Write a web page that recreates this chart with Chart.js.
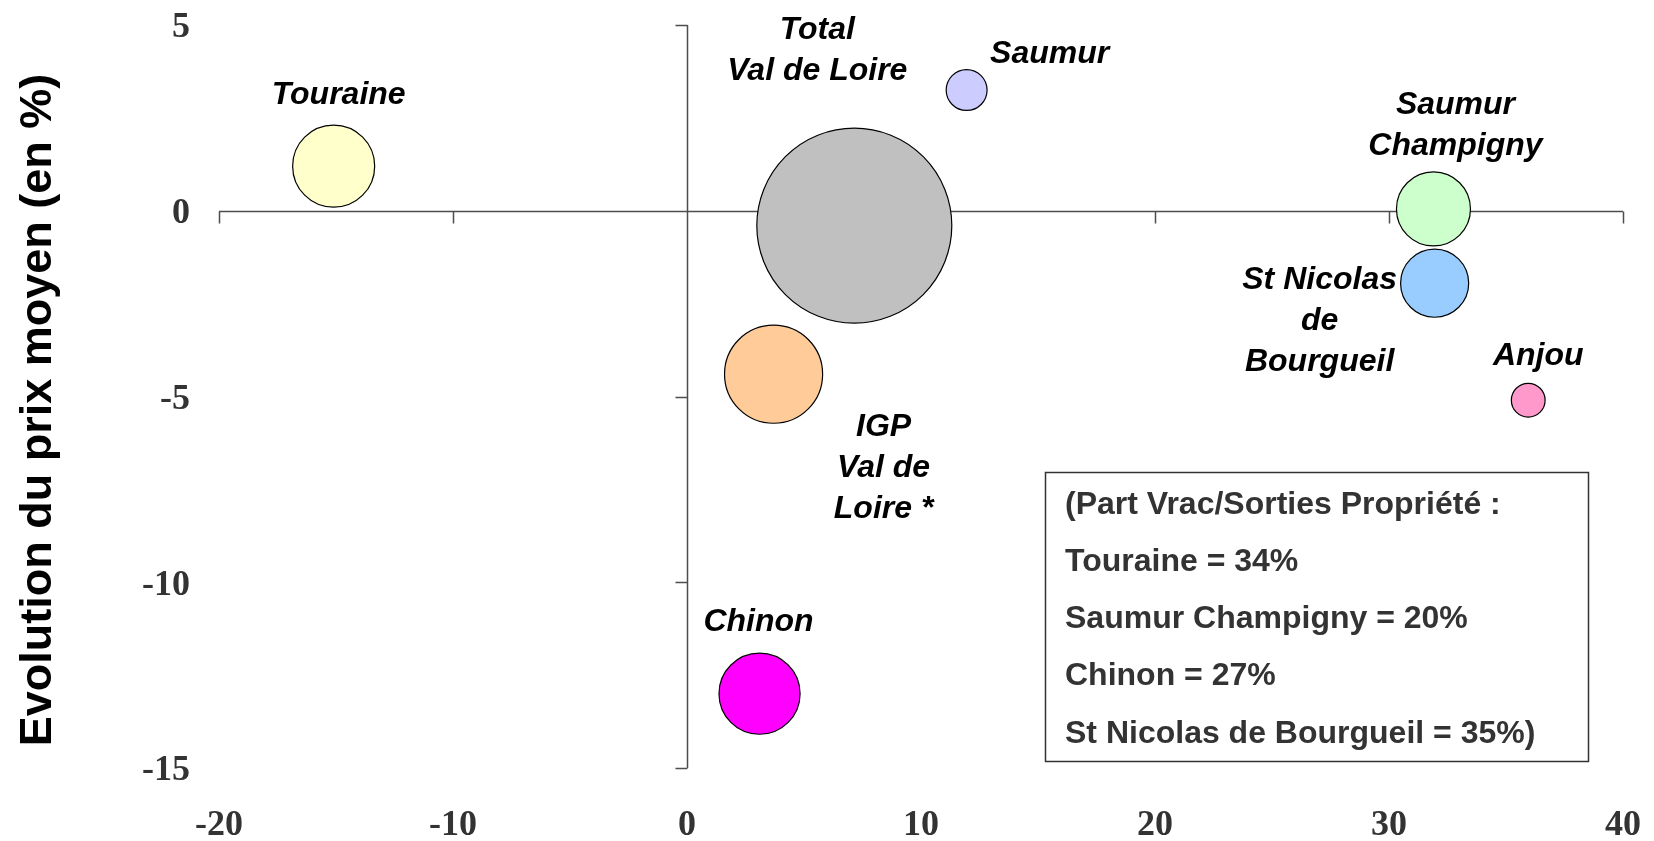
<!DOCTYPE html>
<html>
<head>
<meta charset="utf-8">
<script src="https://cdn.jsdelivr.net/npm/chart.js@4/dist/chart.umd.min.js"></script>
<style>
  html, body { margin: 0; padding: 0; background: #fff; }
</style>
</head>
<body>
<canvas id="bullesChart" width="1654" height="841"></canvas>
<script>
// Données
const appellations = ['Touraine', 'Total Val de Loire', 'Saumur', 'Saumur Champigny', 'St Nicolas de Bourgueil', 'Anjou', 'IGP Val de Loire *', 'Chinon'];
const evolVolumes = [-15.1, 7.15, 11.95, 31.9, 31.95, 35.95, 3.7, 3.1];
const evolPrix = [1.2, -0.4, 3.25, 0.05, -1.95, -5.1, -4.4, -13.0];
const volumes = [17.7, 100, 4.4, 14.4, 12.2, 3.0, 25.3, 17.3];
const couleurs = ['#FFFFCC', '#C0C0C0', '#CCCCFF', '#CCFFCC', '#99CCFF', '#FF99CC', '#FFCC99', '#FF00FF'];
const etiquettes = [['Touraine'], ['Total', 'Val de Loire'], ['Saumur'], ['Saumur', 'Champigny'], ['St Nicolas', 'de', 'Bourgueil'], ['Anjou'], ['IGP', 'Val de', 'Loire *'], ['Chinon']];
const ticksX = [-20, -10, 0, 10, 20, 30, 40];
const ticksY = [5, 0, -5, -10, -15];
const titreY = 'Evolution du prix moyen (en %)';
const encadre = ['(Part Vrac/Sorties Propriété :', 'Touraine = 34%', 'Saumur Champigny = 20%', 'Chinon = 27%', 'St Nicolas de Bourgueil = 35%)'];

// position des étiquettes par rapport au centre de chaque bulle (px)
const decalages = [[5, -71], [-37, -195], [83, -36], [22, -104], [-115, -3], [10, -44], [110, 53], [-1, -72]];

const grisAxe = '#4d4d4d';
const policeTicks = { family: '"Liberation Serif", "Times New Roman", serif', size: 36, weight: 'bold' };

// pas de marge supplémentaire due aux libellés : la zone de tracé reste fixe
function sansMarges(axis) {
    axis.paddingTop = 0;
    axis.paddingBottom = 0;
    axis.paddingLeft = 0;
    axis.paddingRight = 0;
}

// Axes qui se croisent en zéro (tracés avant les bulles)
const axesCroisesPlugin = {
    id: 'axesCroises',
    beforeDatasetsDraw(chart) {
        const { ctx, scales: { x, y } } = chart;
        const x0 = Math.round(x.getPixelForValue(0)) + 0.5;
        const y0 = Math.round(y.getPixelForValue(0)) + 0.5;
        ctx.save();
        ctx.strokeStyle = grisAxe;
        ctx.lineWidth = 1.5;
        ctx.beginPath();
        ctx.moveTo(x.getPixelForValue(ticksX[0]), y0);
        ctx.lineTo(x.getPixelForValue(ticksX[ticksX.length - 1]), y0);
        ticksX.forEach(v => {
            const px = Math.round(x.getPixelForValue(v)) + 0.5;
            ctx.moveTo(px, y0);
            ctx.lineTo(px, y0 + 12);
        });
        ctx.moveTo(x0, y.getPixelForValue(ticksY[0]));
        ctx.lineTo(x0, y.getPixelForValue(ticksY[ticksY.length - 1]));
        ticksY.forEach(v => {
            const py = Math.round(y.getPixelForValue(v)) + 0.5;
            ctx.moveTo(x0, py);
            ctx.lineTo(x0 - 12, py);
        });
        ctx.stroke();
        ctx.restore();
    }
};

// Etiquettes des bulles, titre de l'axe vertical et encadré
const etiquettesPlugin = {
    id: 'etiquettes',
    afterDatasetsDraw(chart) {
        const ctx = chart.ctx;
        const meta = chart.getDatasetMeta(0);
        ctx.save();
        ctx.font = 'italic bold 32px "Liberation Sans", Arial, sans-serif';
        ctx.fillStyle = '#000';
        ctx.textAlign = 'center';
        ctx.textBaseline = 'middle';
        meta.data.forEach((pt, i) => {
            const [dx, dy] = decalages[i];
            etiquettes[i].forEach((ligne, k) => {
                ctx.fillText(ligne, pt.x + dx, pt.y + dy + k * 41);
            });
        });

        // titre de l'axe vertical
        ctx.save();
        ctx.translate(51, 410);
        ctx.rotate(-Math.PI / 2);
        ctx.font = 'bold 45px "Liberation Sans", Arial, sans-serif';
        ctx.textBaseline = 'alphabetic';
        ctx.fillText(titreY, 0, 0);
        ctx.restore();

        // encadré
        ctx.strokeStyle = '#333';
        ctx.lineWidth = 1.5;
        ctx.strokeRect(1045.5, 472.5, 543, 289);
        ctx.font = 'bold 32px "Liberation Sans", Arial, sans-serif';
        ctx.fillStyle = '#333';
        ctx.textAlign = 'left';
        encadre.forEach((ligne, k) => {
            ctx.fillText(ligne, 1065, 505 + k * 57.2);
        });
        ctx.restore();
    }
};

const ctx = document.getElementById('bullesChart').getContext('2d');
const bullesChart = new Chart(ctx, {
    type: 'bubble',
    data: {
        datasets: [{
            label: 'Appellations',
            data: appellations.map((nom, i) => ({ x: evolVolumes[i], y: evolPrix[i], r: Math.sqrt(volumes[i]) * 9.75 })),
            backgroundColor: couleurs,
            borderColor: '#000',
            borderWidth: 1.2,
            clip: false
        }]
    },
    options: {
        responsive: false,
        animation: false,
        events: [],
        layout: { autoPadding: false, padding: { top: 25, right: 31, left: 0, bottom: 0 } },
        plugins: {
            legend: { display: false },
            tooltip: { enabled: false }
        },
        scales: {
            x: {
                type: 'linear',
                position: 'bottom',
                min: ticksX[0],
                max: ticksX[ticksX.length - 1],
                afterBuildTicks: (axis) => { axis.ticks = ticksX.map(v => ({ value: v })); },
                grid: { display: false, drawTicks: false },
                border: { display: false },
                ticks: { font: policeTicks, color: '#333', padding: 36, maxRotation: 0 },
                afterFit: (axis) => { axis.height = 73; sansMarges(axis); }
            },
            y: {
                type: 'linear',
                position: 'left',
                min: ticksY[ticksY.length - 1],
                max: ticksY[0],
                afterBuildTicks: (axis) => { axis.ticks = ticksY.map(v => ({ value: v })); },
                grid: { display: false, drawTicks: false },
                border: { display: false },
                ticks: { font: policeTicks, color: '#333', padding: 29, labelOffset: 3 },
                afterFit: (axis) => { axis.width = 219; sansMarges(axis); }
            }
        }
    },
    plugins: [axesCroisesPlugin, etiquettesPlugin]
});
</script>
</body>
</html>
